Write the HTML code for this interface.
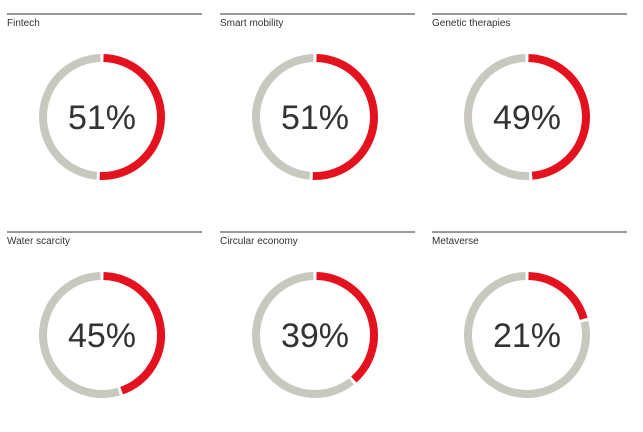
<!DOCTYPE html><html><head><meta charset="utf-8"><style>
body{margin:0;background:#fff;width:643px;height:427px;overflow:hidden;font-family:"Liberation Sans",sans-serif}
</style></head><body>
<svg id="c" width="643" height="427"></svg>
<script>
const titles=["Fintech","Smart mobility","Genetic therapies","Water scarcity","Circular economy","Metaverse"];
const values=[51,51,49,45,39,21];
const NS="http://www.w3.org/2000/svg",svg=document.getElementById('c');
function mk(t,a){const e=document.createElementNS(NS,t);for(const k in a)e.setAttribute(k,a[k]);svg.appendChild(e);return e;}
const colX=[7,220,432],rowY=[14,232],R=59,SW=8;
function pt(cx,cy,a){return [cx+R*Math.sin(a),cy-R*Math.cos(a)];}
function arc(cx,cy,a0,a1){const p0=pt(cx,cy,a0),p1=pt(cx,cy,a1);const large=(a1-a0)>Math.PI?1:0;return `M${p0[0]} ${p0[1]} A${R} ${R} 0 ${large} 1 ${p1[0]} ${p1[1]}`;}
values.forEach((v,i)=>{
 const x=colX[i%3],y=rowY[Math.floor(i/3)],cx=x+95,cy=y+103;
 const l=mk('line',{x1:x,x2:x+195,y1:y,y2:y,stroke:'#333','stroke-width':1});
 
 const t=mk('text',{x:x,y:y+12,'font-size':10,fill:'#333'});t.textContent=titles[i];
 
 const g=0.025,a=v/100*2*Math.PI;
 const gr=mk('path',{d:arc(cx,cy,a+g,2*Math.PI-g),fill:'none',stroke:'#c8c8bf','stroke-width':SW});
 
 const rd=mk('path',{d:arc(cx,cy,g,a-g),fill:'none',stroke:'#e3121e','stroke-width':SW});
 
 const vt=mk('text',{x:cx,y:cy+12,'font-size':34,'text-anchor':'middle',fill:'#333'});vt.textContent=v+'%';
 
});
</script></body></html>
